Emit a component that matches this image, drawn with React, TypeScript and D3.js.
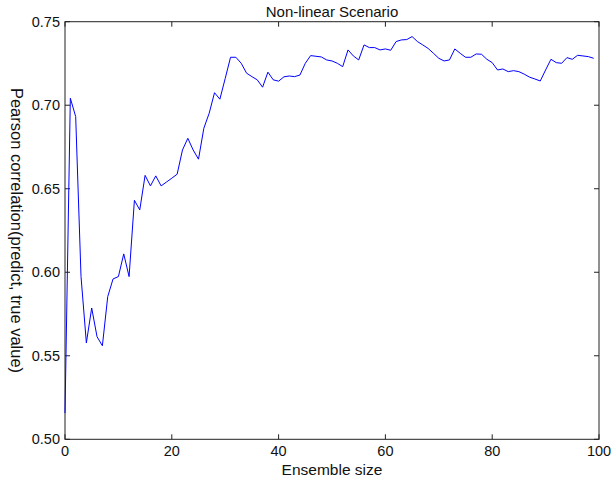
import React, { useEffect, useRef } from 'react';
import * as d3 from 'd3';

// Pearson correlation for ensemble sizes 0..99 (index = ensemble size)
const correlations = [
  0.5157, 0.7042, 0.6932, 0.5974, 0.5577, 0.5786, 0.5614, 0.556, 0.5854, 0.596,
  0.5974, 0.611, 0.5974, 0.6431, 0.6373, 0.658, 0.6517, 0.6577, 0.6517, 0.654,
  0.6563, 0.6587, 0.6732, 0.6802, 0.6732, 0.6677, 0.6862, 0.6952, 0.7075, 0.7036,
  0.716, 0.7287, 0.7287, 0.7251, 0.7192, 0.7171, 0.7152, 0.7108, 0.7198, 0.7152,
  0.7144, 0.717, 0.7175, 0.7171, 0.7181, 0.7251, 0.7297, 0.7293, 0.7289, 0.7271,
  0.7265, 0.7251, 0.7231, 0.7331, 0.7295, 0.7271, 0.7361, 0.7345, 0.7345, 0.7331,
  0.7337, 0.7329, 0.7381, 0.7391, 0.7393, 0.7411, 0.7381, 0.7361, 0.734, 0.7311,
  0.7281, 0.7265, 0.7271, 0.7337, 0.7311, 0.7287, 0.7287, 0.7307, 0.7305, 0.7275,
  0.7255, 0.7211, 0.7217, 0.7201, 0.7207, 0.7201, 0.7186, 0.7168, 0.7157, 0.7145,
  0.7211, 0.7275, 0.7255, 0.7251, 0.7285, 0.7275, 0.7299, 0.7295, 0.7291, 0.7281,
];

const xTicks = [0, 20, 40, 60, 80, 100];
const yTicks = [0.5, 0.55, 0.6, 0.65, 0.7, 0.75];

const App: React.FC = () => {
  const chartRef = useRef<SVGSVGElement>(null);

  useEffect(() => {
    const svg = d3.select(chartRef.current);
    svg.selectAll('*').remove();

    const W = 613;
    const H = 479;
    const margin = { top: 21.7, right: 14, bottom: 39.7, left: 65 };
    const width = W - margin.left - margin.right;
    const height = H - margin.top - margin.bottom;
    const font = '"Liberation Sans", Arial, sans-serif';

    svg.append('rect').attr('width', W).attr('height', H).attr('fill', 'white');

    const g = svg
      .append('g')
      .attr('transform', `translate(${margin.left},${margin.top})`);

    const x = d3.scaleLinear().domain([0, 100]).range([0, width]);
    const y = d3.scaleLinear().domain([0.5, 0.75]).range([height, 0]);

    const tickLen = 5;
    const axisColor = '#222';

    // mirrored inward ticks, matlab style
    xTicks.forEach((t) => {
      g.append('line')
        .attr('x1', x(t)).attr('x2', x(t))
        .attr('y1', height).attr('y2', height - tickLen)
        .attr('stroke', axisColor);
      g.append('line')
        .attr('x1', x(t)).attr('x2', x(t))
        .attr('y1', 0).attr('y2', tickLen)
        .attr('stroke', axisColor);
      g.append('text')
        .attr('x', x(t))
        .attr('y', height + 17)
        .attr('text-anchor', 'middle')
        .attr('font-family', font)
        .attr('font-size', 14.5)
        .attr('fill', '#111')
        .text(t);
    });

    yTicks.forEach((t) => {
      g.append('line')
        .attr('x1', 0).attr('x2', tickLen)
        .attr('y1', y(t)).attr('y2', y(t))
        .attr('stroke', axisColor);
      g.append('line')
        .attr('x1', width).attr('x2', width - tickLen)
        .attr('y1', y(t)).attr('y2', y(t))
        .attr('stroke', axisColor);
      g.append('text')
        .attr('x', -5)
        .attr('y', y(t) + 5)
        .attr('text-anchor', 'end')
        .attr('font-family', font)
        .attr('font-size', 14.5)
        .attr('fill', '#111')
        .text(d3.format('.2f')(t));
    });

    g.append('rect')
      .attr('width', width)
      .attr('height', height)
      .attr('fill', 'none')
      .attr('stroke', axisColor)
      .attr('stroke-width', 1);

    const line = d3
      .line<number>()
      .x((_, i) => x(i))
      .y((d) => y(d));

    g.append('path')
      .datum(correlations)
      .attr('d', line)
      .attr('fill', 'none')
      .attr('stroke', '#0000ff')
      .attr('stroke-width', 1);

    svg.append('text')
      .attr('x', margin.left + width / 2)
      .attr('y', 17)
      .attr('text-anchor', 'middle')
      .attr('font-family', font)
      .attr('font-size', 15)
      .attr('fill', '#111')
      .text('Non-linear Scenario');

    svg.append('text')
      .attr('x', margin.left + width / 2)
      .attr('y', 475)
      .attr('text-anchor', 'middle')
      .attr('font-family', font)
      .attr('font-size', 15.5)
      .attr('fill', '#111')
      .text('Ensemble size');

    svg.append('text')
      .attr('transform', `translate(11, ${margin.top + height / 2}) rotate(90)`)
      .attr('text-anchor', 'middle')
      .attr('font-family', font)
      .attr('font-size', 16.5)
      .attr('fill', '#111')
      .text('Pearson correlation(predict, true value)');
  }, []);

  return (
    <svg
      ref={chartRef}
      width={613}
      height={479}
      style={{ position: 'absolute', left: 0, top: 0 }}
    />
  );
};

export default App;
